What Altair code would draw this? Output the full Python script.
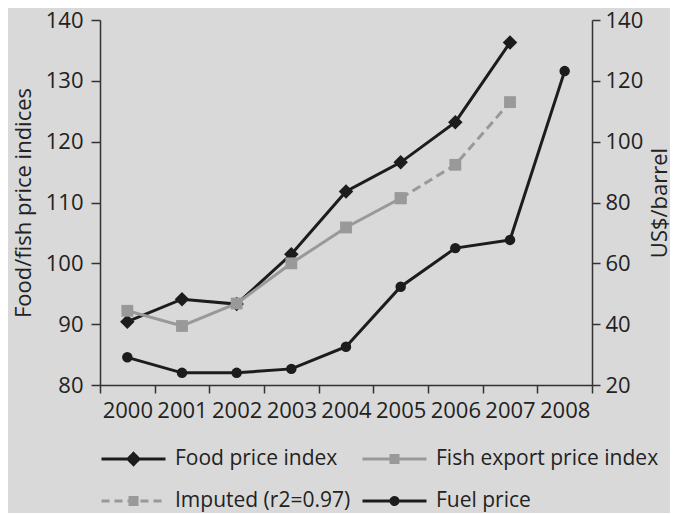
import altair as alt
import pandas as pd

years = ["2000", "2001", "2002", "2003", "2004", "2005", "2006", "2007", "2008"]
food = [90.4, 94.1, 93.3, 101.5, 111.8, 116.6, 123.2, 136.3, None]
fish = [92.2, 89.7, 93.4, 100.0, 105.9, 110.7, None, None, None]
imputed = [None, None, None, None, None, 110.7, 116.2, 126.5, None]
fuel = [29.1, 24.0, 24.0, 25.3, 32.6, 52.3, 65.0, 67.7, 123.2]

series_names = ["Food price index", "Fish export price index", "Imputed (r2=0.97)", "Fuel price"]
left_ticks = [80, 90, 100, 110, 120, 130, 140]
right_ticks = [20, 40, 60, 80, 100, 120, 140]

BLACK = "#1c1c1c"
GRAY = "#999999"
TEXT = "#222222"
FONT = "Open Sans"

rows = []
for name, vals in zip(series_names, [food, fish, imputed, fuel]):
    for y, v in zip(years, vals):
        if v is not None:
            rows.append({"year": y, "series": name, "value": v})
df = pd.DataFrame(rows)

# legend symbol paths (line + filled-looking marker), unit = 32px
line = "M-1,0H1"
diamond = line + " M0,-0.172L0.172,0L0,0.172L-0.172,0Z M0,-0.069L0.069,0L0,0.069L-0.069,0Z"
sq_parts = []
for yy in [-0.109, -0.055, 0, 0.055, 0.109]:
    sq_parts.append(f"M-0.156,{yy}H0 M0,{yy}H0.156")
square = line + " " + " ".join(sq_parts)
circle = (line + " M0.109,0A0.109,0.109 0 1,1 -0.109,0A0.109,0.109 0 1,1 0.109,0"
          " M0.031,0A0.031,0.031 0 1,1 -0.031,0A0.031,0.031 0 1,1 0.031,0")

x_enc = alt.X(
    "year:O",
    bandPosition=0.5,
    scale=alt.Scale(type="band", domain=years, paddingInner=0, paddingOuter=0),
    axis=alt.Axis(title=None, labelAngle=0, tickBand="extent", tickSize=8, labelPadding=7),
)
y_left = alt.Y(
    "value:Q",
    scale=alt.Scale(domain=[80, 140], nice=False, zero=False),
    axis=alt.Axis(values=left_ticks, title="Food/fish price indices", tickSize=9,
                  labelPadding=8, titlePadding=10),
)
y_right = alt.Y(
    "value:Q",
    scale=alt.Scale(domain=[20, 140], nice=False, zero=False),
    axis=alt.Axis(values=right_ticks, title="US$/barrel", orient="right", tickSize=8,
                  labelPadding=5, titlePadding=7, titleAngle=270, titleBaseline="top"),
)

base = alt.Chart(df)


def sel(name):
    return base.transform_filter(alt.datum.series == name)


food_line = sel(series_names[0]).mark_line(color=BLACK, strokeWidth=3).encode(x=x_enc, y=y_left)
food_pts = sel(series_names[0]).mark_point(shape="diamond", filled=True, size=210, color=BLACK, opacity=1).encode(x=x_enc, y=y_left)
fish_line = sel(series_names[1]).mark_line(color=GRAY, strokeWidth=3).encode(x=x_enc, y=y_left)
fish_pts = sel(series_names[1]).mark_point(shape="square", filled=True, size=140, color=GRAY, opacity=1).encode(x=x_enc, y=y_left)
imp_line = sel(series_names[2]).mark_line(color=GRAY, strokeWidth=3, strokeDash=[9, 5]).encode(x=x_enc, y=y_left)
imp_pts = sel(series_names[2]).mark_point(shape="square", filled=True, size=140, color=GRAY, opacity=1).encode(x=x_enc, y=y_left)

leg = alt.Legend(
    title=None, orient="bottom", columns=2, gridAlign="none",
    symbolSize=4096, symbolStrokeWidth=3, clipHeight=24, symbolOpacity=1,
    labelFont=FONT, labelFontSize=21, labelColor=TEXT, labelOffset=8, labelLimit=400,
    columnPadding=10, rowPadding=18, offset=26, symbolFillColor="transparent",
)
dummy = base.transform_filter("false").mark_point(filled=False, strokeWidth=3, opacity=1).encode(
    x=x_enc, y=y_left,
    color=alt.Color("series:N", scale=alt.Scale(domain=series_names, range=[BLACK, GRAY, GRAY, BLACK]), legend=leg),
    shape=alt.Shape("series:N", scale=alt.Scale(domain=series_names, range=[diamond, square, square, circle]), legend=leg),
    strokeDash=alt.StrokeDash("series:N", scale=alt.Scale(domain=series_names, range=[[1, 0], [1, 0], [8, 5], [1, 0]]), legend=leg),
)

left = alt.layer(food_line, food_pts, fish_line, fish_pts, imp_line, imp_pts, dummy)

fuel_line = sel(series_names[3]).mark_line(color=BLACK, strokeWidth=3).encode(x=x_enc, y=y_right)
fuel_pts = sel(series_names[3]).mark_point(shape="circle", filled=True, size=110, color=BLACK, opacity=1).encode(x=x_enc, y=y_right)
right = alt.layer(fuel_line, fuel_pts)

chart = alt.layer(left, right).resolve_scale(y="independent").properties(
    width=492, height=365, background="#d9d9d9",
    autosize=alt.AutoSizeParams(type="none"),
    padding={"left": 92, "top": 12, "right": 78, "bottom": 128},
).configure_view(stroke=None).configure_axis(
    grid=False, domainColor="#333333", domainWidth=1.5, tickColor="#333333", tickWidth=1.5,
    labelFont=FONT, labelFontSize=22, labelColor=TEXT,
    titleFont=FONT, titleFontSize=22, titleFontWeight="normal", titleColor=TEXT,
)

chart.save("out.html", embed_options={"renderer": "svg", "actions": False})
